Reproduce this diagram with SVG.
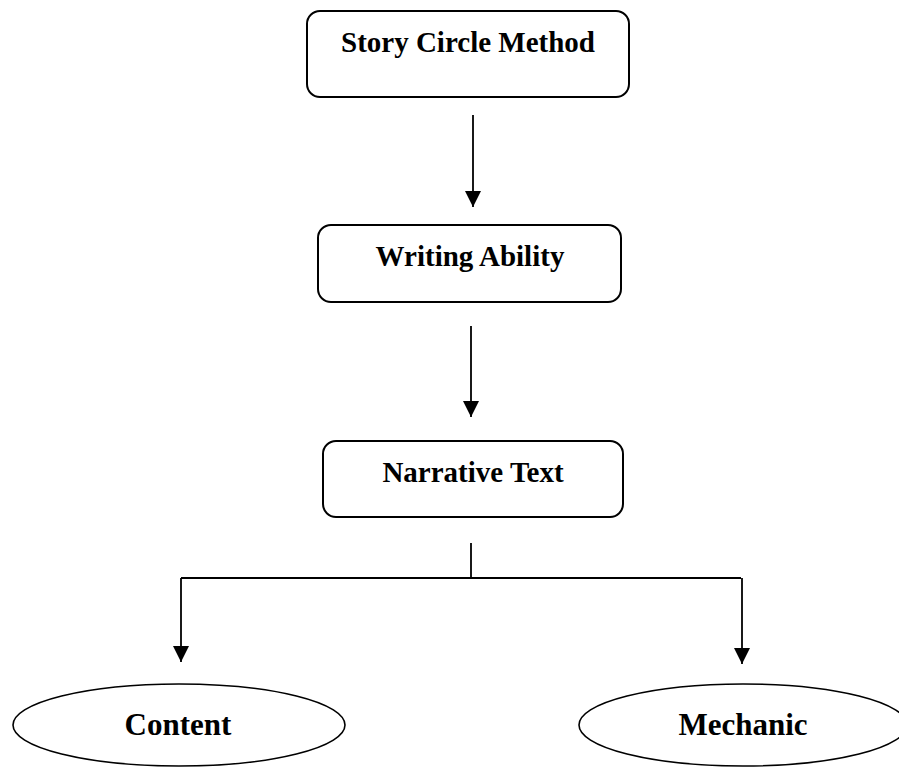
<svg xmlns="http://www.w3.org/2000/svg" width="899" height="767" viewBox="0 0 899 767">
<style>
.box{fill:#fff;stroke:#000;stroke-width:2}
.ell{fill:#fff;stroke:#000;stroke-width:1.6}
.lbl{font-family:"Liberation Serif","Times New Roman",serif;font-weight:bold;font-size:29px;fill:#000;text-anchor:middle}
.big{font-size:31px}
.con{fill:none;stroke:#000;stroke-width:1.8}
</style>
<defs>
<marker id="arr" markerUnits="userSpaceOnUse" markerWidth="16" markerHeight="16" refX="16" refY="8" orient="auto">
<path d="M0,0 L16,8 L0,16 Z" fill="#000"/>
</marker>
</defs>
<rect width="899" height="767" fill="#fff"/>
<g id="connectors">
<line class="con" x1="473" y1="115" x2="473" y2="207" marker-end="url(#arr)"/>
<line class="con" x1="471" y1="326" x2="471" y2="417" marker-end="url(#arr)"/>
<line class="con" x1="471" y1="543" x2="471" y2="578"/>
<line class="con" x1="181" y1="578" x2="741" y2="578"/>
<line class="con" x1="181" y1="578" x2="181" y2="662" marker-end="url(#arr)"/>
<line class="con" x1="742" y1="578" x2="742" y2="664" marker-end="url(#arr)"/>
</g>
<g id="story">
<rect class="box" x="307" y="11" width="322" height="86" rx="13"/>
<text class="lbl" x="468" y="52">Story Circle Method</text>
</g>
<g id="writing">
<rect class="box" x="318" y="225" width="303" height="77" rx="13"/>
<text class="lbl" x="470" y="266">Writing Ability</text>
</g>
<g id="narrative">
<rect class="box" x="323" y="441" width="300" height="76" rx="13"/>
<text class="lbl" x="473" y="482">Narrative Text</text>
</g>
<g id="content">
<ellipse class="ell" cx="179" cy="725" rx="166" ry="41"/>
<text class="lbl big" x="178" y="735">Content</text>
</g>
<g id="mechanic">
<ellipse class="ell" cx="743" cy="725" rx="164" ry="41"/>
<text class="lbl big" x="743" y="735">Mechanic</text>
</g>
</svg>
